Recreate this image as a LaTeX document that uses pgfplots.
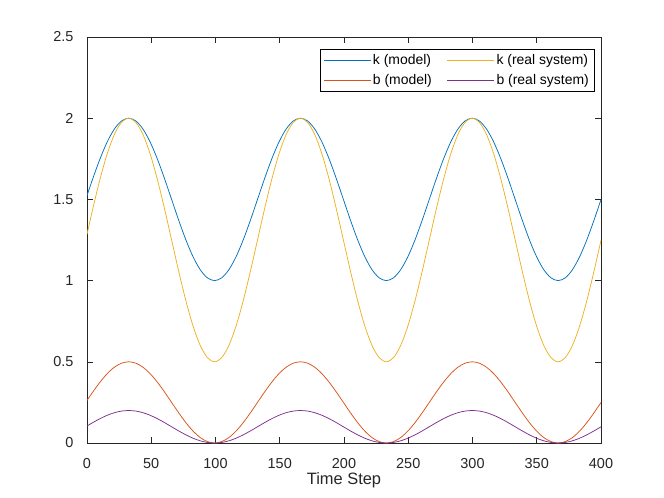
\documentclass[border=0pt]{standalone}
\usepackage{pgfplots}
\usepackage{pgfplotstable}
\usepackage{fontspec}
\setmainfont{Liberation Sans}
\usetikzlibrary{calc}
\pgfplotsset{compat=1.18}
\definecolor{mblue}{rgb}{0,0.447,0.741}
\definecolor{morange}{rgb}{0.85,0.325,0.098}
\definecolor{myellow}{rgb}{0.929,0.694,0.125}
\definecolor{mpurple}{rgb}{0.494,0.184,0.556}
\definecolor{axgray}{rgb}{0.15,0.15,0.15}
\pgfplotstableread{
t km kr bm br
0 1.5235 1.2852 0.2617 0.1047
4.570 1.6294 1.4441 0.3147 0.1259
10.140 1.75 1.625 0.375 0.15
15.711 1.8536 1.7803 0.4268 0.1707
21.281 1.9330 1.8995 0.4665 0.1866
26.851 1.9830 1.9744 0.4915 0.1966
32.421 2 2 0.5 0.2
37.991 1.9830 1.9744 0.4915 0.1966
43.562 1.9330 1.8995 0.4665 0.1866
49.132 1.8536 1.7803 0.4268 0.1707
54.702 1.75 1.625 0.375 0.15
60.272 1.6294 1.4441 0.3147 0.1259
65.842 1.5 1.25 0.25 0.1
71.413 1.3706 1.0559 0.1853 0.0741
76.983 1.25 0.875 0.125 0.05
82.553 1.1464 0.7197 0.0732 0.0293
88.123 1.0670 0.6005 0.0335 0.0134
93.693 1.0170 0.5256 0.0085 0.0034
99.264 1 0.5 0 0
104.834 1.0170 0.5256 0.0085 0.0034
110.404 1.0670 0.6005 0.0335 0.0134
115.974 1.1464 0.7197 0.0732 0.0293
121.544 1.25 0.875 0.125 0.05
127.115 1.3706 1.0559 0.1853 0.0741
132.685 1.5 1.25 0.25 0.1
138.255 1.6294 1.4441 0.3147 0.1259
143.825 1.75 1.625 0.375 0.15
149.395 1.8536 1.7803 0.4268 0.1707
154.966 1.9330 1.8995 0.4665 0.1866
160.536 1.9830 1.9744 0.4915 0.1966
166.106 2 2 0.5 0.2
171.676 1.9830 1.9744 0.4915 0.1966
177.246 1.9330 1.8995 0.4665 0.1866
182.817 1.8536 1.7803 0.4268 0.1707
188.387 1.75 1.625 0.375 0.15
193.957 1.6294 1.4441 0.3147 0.1259
199.527 1.5 1.25 0.25 0.1
205.097 1.3706 1.0559 0.1853 0.0741
210.667 1.25 0.875 0.125 0.05
216.238 1.1464 0.7197 0.0732 0.0293
221.808 1.0670 0.6005 0.0335 0.0134
227.378 1.0170 0.5256 0.0085 0.0034
232.948 1 0.5 0 0
238.519 1.0170 0.5256 0.0085 0.0034
244.089 1.0670 0.6005 0.0335 0.0134
249.659 1.1464 0.7197 0.0732 0.0293
255.229 1.25 0.875 0.125 0.05
260.799 1.3706 1.0559 0.1853 0.0741
266.370 1.5 1.25 0.25 0.1
271.940 1.6294 1.4441 0.3147 0.1259
277.510 1.75 1.625 0.375 0.15
283.080 1.8536 1.7803 0.4268 0.1707
288.650 1.9330 1.8995 0.4665 0.1866
294.221 1.9830 1.9744 0.4915 0.1966
299.791 2 2 0.5 0.2
305.361 1.9830 1.9744 0.4915 0.1966
310.931 1.9330 1.8995 0.4665 0.1866
316.501 1.8536 1.7803 0.4268 0.1707
322.072 1.75 1.625 0.375 0.15
327.642 1.6294 1.4441 0.3147 0.1259
333.212 1.5 1.25 0.25 0.1
338.782 1.3706 1.0559 0.1853 0.0741
344.352 1.25 0.875 0.125 0.05
349.923 1.1464 0.7197 0.0732 0.0293
355.493 1.0670 0.6005 0.0335 0.0134
361.063 1.0170 0.5256 0.0085 0.0034
366.633 1 0.5 0 0
372.203 1.0170 0.5256 0.0085 0.0034
377.774 1.0670 0.6005 0.0335 0.0134
383.344 1.1464 0.7197 0.0732 0.0293
388.914 1.25 0.875 0.125 0.05
394.484 1.3706 1.0559 0.1853 0.0741
400 1.4988 1.2483 0.2494 0.0998
}\data
\begin{document}
\begin{tikzpicture}
\begin{axis}[
  scale only axis,
  width=514bp, height=406bp,
  xmin=0, xmax=400, ymin=0, ymax=2.5,
  xtick={0,50,...,400},
  ytick={0,0.5,1,1.5,2,2.5},
  yticklabels={0,0.5,1,1.5,2,2.5},
  tick pos=both,
  tick align=inside,
  major tick length=6bp,
  axis line style={axgray, line width=0.6pt},
  every tick/.style={axgray, line width=0.6pt},
  ticklabel style={font=\fontsize{14.5}{16}\selectfont, text=axgray},
  /pgf/number format/assume math mode=true,
  xticklabel style={yshift=-12bp},
  yticklabel style={xshift=-10bp},
  xlabel={Time Step},
  xlabel style={font=\fontsize{16.5}{18}\selectfont, text=axgray, yshift=3bp},
  legend columns=2,
  legend style={at={(0.9864,0.9697)}, anchor=north east,
    inner xsep=3bp, inner ysep=3bp,
    font=\fontsize{14}{16}\selectfont, row sep=4bp,
    nodes={inner sep=2bp},
    /tikz/every even column/.append style={column sep=13bp}},
  legend cell align=left,
  legend image code/.code={\draw[#1] (0bp,0bp) -- (47bp,0bp);},
  clip=true,
]
\addplot[color=mblue, line width=0.75pt, smooth, tension=0.5] table[x=t, y=km] {\data};
\addlegendentry{k (model)}
\addplot[color=myellow, line width=0.75pt, smooth, tension=0.5] table[x=t, y=kr] {\data};
\addlegendentry{k (real system)}
\addplot[color=morange, line width=0.75pt, smooth, tension=0.5] table[x=t, y=bm] {\data};
\addlegendentry{b (model)}
\addplot[color=mpurple, line width=0.75pt, smooth, tension=0.5] table[x=t, y=br] {\data};
\addlegendentry{b (real system)}
\end{axis}
\path ($(current axis.south west)+(-87bp,-55bp)$) rectangle ($(current axis.north east)+(63bp,37bp)$);
\end{tikzpicture}
\end{document}
